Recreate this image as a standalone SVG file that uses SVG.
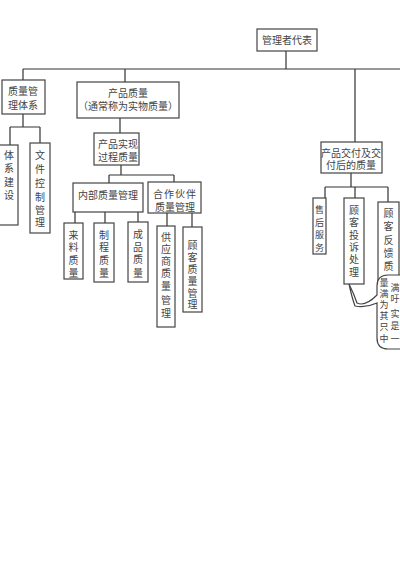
<svg xmlns="http://www.w3.org/2000/svg" width="400" height="577" viewBox="0 0 400 577">
<style>
.b{fill:#fff;stroke:#444;stroke-width:1.2}
.l{fill:none;stroke:#333;stroke-width:1.2}
.t{font-family:"Liberation Serif","Noto Sans CJK SC",serif;font-size:10px;fill:#444;text-anchor:middle;dominant-baseline:central}
.c{font-size:9px}
</style>
<rect width="400" height="577" fill="#fff"/>
<g id="connectors">
<path class="l" d="M286,51V69M23,69H400M23,69V80M125,69V82M355,69V142"/>
<path class="l" d="M23,114V127M10,127H40M10,127V145M40,127V143"/>
<path class="l" d="M120,118V133M121,165V175M109,175H174M109,175V183M174,175V182"/>
<path class="l" d="M75,212V223M105,212V223M138,212V222M167,213V226"/>
<path class="l" d="M192,213V227" stroke-width="2.2"/>
<path class="l" d="M351,173V187M325,187H388M325,187V198M355,187V198M388,187V202"/>
</g>
<g id="n-top"><rect class="b" x="257" y="29" width="60" height="22"/><text class="t" x="287" y="40">管理者代表</text></g>
<g id="n-qms"><rect class="b" x="2" y="80" width="43" height="34"/><text class="t" x="23" y="91">质量管</text><text class="t" x="23" y="105">理体系</text></g>
<g id="n-pq"><rect class="b" x="77" y="82" width="102" height="36"/><text class="t" x="128" y="93">产品质量</text><text class="t" x="128" y="106">（通常称为实物质量）</text></g>
<g id="n-sys"><rect class="b" x="-2" y="145" width="20" height="80"/><text class="t" x="9" y="155">体</text><text class="t" x="9" y="168">系</text><text class="t" x="9" y="182">建</text><text class="t" x="9" y="195">设</text></g>
<g id="n-doc"><rect class="b" x="30" y="143" width="20" height="90"/><text class="t" x="40" y="155">文</text><text class="t" x="40" y="169">件</text><text class="t" x="40" y="183">控</text><text class="t" x="40" y="197">制</text><text class="t" x="40" y="210">管</text><text class="t" x="40" y="222">理</text></g>
<g id="n-proc"><rect class="b" x="94" y="133" width="45" height="32"/><text class="t" x="118" y="144">产品实现</text><text class="t" x="118" y="157">过程质量</text></g>
<g id="n-int"><rect class="b" x="73" y="183" width="70" height="29"/><text class="t" x="108" y="195">内部质量管理</text></g>
<g id="n-part"><rect class="b" x="148" y="182" width="53" height="31"/><text class="t" x="175" y="194" letter-spacing="1">合作伙伴</text><text class="t" x="175" y="207">质量管理</text></g>
<g id="n-in"><rect class="b" x="64" y="223" width="19" height="56"/><text class="t" x="73.5" y="235">来</text><text class="t" x="73.5" y="247">料</text><text class="t" x="73.5" y="260">质</text><text class="t" x="73.5" y="273">量</text></g>
<g id="n-mid"><rect class="b" x="94" y="223" width="20" height="59"/><text class="t" x="104" y="235">制</text><text class="t" x="104" y="247">程</text><text class="t" x="104" y="260">质</text><text class="t" x="104" y="273">量</text></g>
<g id="n-fin"><rect class="b" x="128" y="222" width="20" height="60"/><text class="t" x="138" y="234">成</text><text class="t" x="138" y="247">品</text><text class="t" x="138" y="259">质</text><text class="t" x="138" y="273">量</text></g>
<g id="n-sup"><rect class="b" x="157" y="226" width="18" height="101" stroke-width="1.8"/><text class="t" x="166" y="237">供</text><text class="t" x="166" y="249">应</text><text class="t" x="166" y="261">商</text><text class="t" x="166" y="273">质</text><text class="t" x="166" y="286">量</text><text class="t" x="166" y="300">管</text><text class="t" x="166" y="313">理</text></g>
<g id="n-cust"><rect class="b" x="183" y="227" width="19" height="85"/><text class="t" x="192.5" y="245">顾</text><text class="t" x="192.5" y="257">客</text><text class="t" x="192.5" y="269">质</text><text class="t" x="192.5" y="281">量</text><text class="t" x="192.5" y="293">管</text><text class="t" x="192.5" y="304">理</text></g>
<g id="n-del"><rect class="b" x="321" y="142" width="61" height="31"/><text class="t" x="351" y="153">产品交付及交</text><text class="t" x="351" y="165">付后的质量</text></g>
<g id="n-svc"><rect class="b" x="313" y="198" width="13" height="56"/><text class="t c" x="319.5" y="210">售</text><text class="t c" x="319.5" y="223">后</text><text class="t c" x="319.5" y="235">服</text><text class="t c" x="319.5" y="248">务</text></g>
<g id="n-comp"><rect class="b" x="344" y="198" width="20" height="86"/><text class="t" x="354" y="210">顾</text><text class="t" x="354" y="222">客</text><text class="t" x="354" y="235">投</text><text class="t" x="354" y="247">诉</text><text class="t" x="354" y="259">处</text><text class="t" x="354" y="272">理</text></g>
<g id="n-fb"><rect class="b" x="378" y="202" width="21" height="90"/><text class="t" x="388.5" y="213">顾</text><text class="t" x="388.5" y="226">客</text><text class="t" x="388.5" y="240">反</text><text class="t" x="388.5" y="253">馈</text><text class="t" x="388.5" y="266">质</text></g>
<g id="callout">
<path class="b" d="M412,275H388Q377,275 377,286V295Q365,307 357,303Q354,294 349,284Q352,298 355,306Q366,308 377,303V338Q377,349 388,349H412Z"/>
<text class="t c" x="384" y="283">量</text><text class="t c" x="384" y="294">满</text><text class="t c" x="384" y="305">为</text><text class="t c" x="384" y="316">其</text><text class="t c" x="384" y="327">只</text><text class="t c" x="384" y="339">中</text>
<text class="t c" x="395" y="288">满</text><text class="t c" x="395" y="299">吁</text><text class="t c" x="395" y="314">实</text><text class="t c" x="395" y="326">是</text><text class="t c" x="395" y="339">一</text>
</g>
</svg>
